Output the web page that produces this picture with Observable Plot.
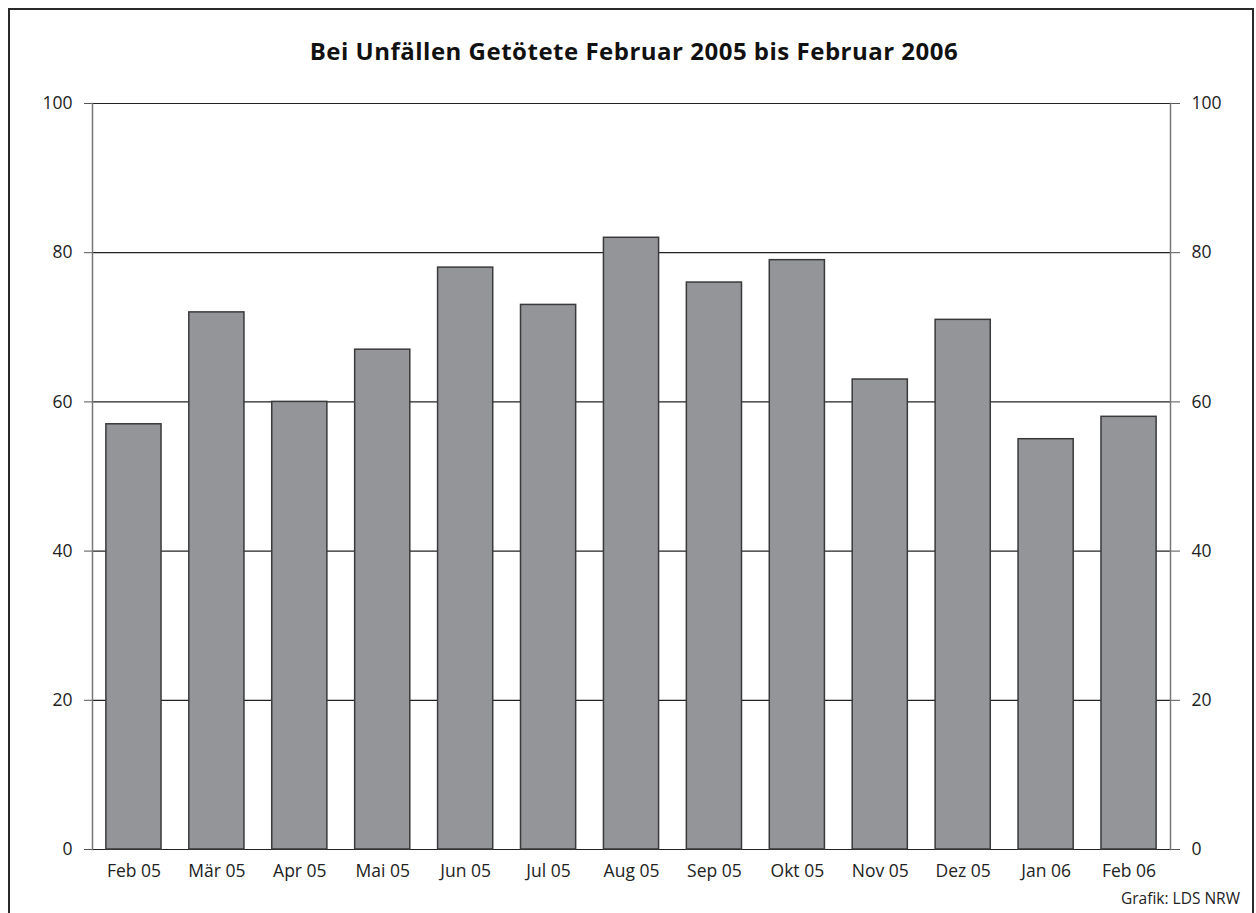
<!DOCTYPE html>
<html><head><meta charset="utf-8">
<script src="https://cdn.jsdelivr.net/npm/d3@7"></script>
<script src="https://cdn.jsdelivr.net/npm/@observablehq/plot@0.6"></script>
<style>
html,body{margin:0;padding:0;background:#fff;overflow:hidden;}
#wrap{position:relative;width:1256px;height:913px;font-family:"Open Sans",sans-serif;color:#222;}
#frame{position:absolute;left:8px;top:8px;width:1246px;height:940px;border:2px solid #2a2a2a;box-sizing:border-box;}
#title{position:absolute;left:12px;width:1244px;top:35px;text-align:center;font-weight:bold;font-size:24px;letter-spacing:0.5px;color:#111;line-height:32px;}
#chart{position:absolute;left:0;top:0;}
#chart svg text{font-size:17.5px;fill:#222;}
#caption{position:absolute;right:16px;top:888px;font-size:15.5px;color:#222;line-height:20px;}
</style></head>
<body><div id="wrap"><div id="frame"></div><div id="chart"></div>
<div id="title">Bei Unfällen Getötete Februar 2005 bis Februar 2006</div>
<div id="caption">Grafik: LDS NRW</div></div>
<script>
const months = ["Feb 05","Mär 05","Apr 05","Mai 05","Jun 05","Jul 05","Aug 05","Sep 05","Okt 05","Nov 05","Dez 05","Jan 06","Feb 06"];
const deaths = [57,72,60,67,78,73,82,76,79,63,71,55,58];
const yTicks = [0,20,40,60,80,100];
const data = months.map((m,i)=>({month:m, value:deaths[i]}));

const chart = Plot.plot({
  width:1256, height:913,
  marginLeft:92, marginRight:86, marginTop:103, marginBottom:64,
  style:{fontFamily:"Open Sans, sans-serif", fontSize:"17.5px", color:"#222", background:"transparent"},
  x:{domain:months, paddingInner:0.335, paddingOuter:0.1675, round:false, label:null},
  y:{domain:[0,100], label:null},
  marks:[
    Plot.ruleY(yTicks, {stroke:"#222", strokeWidth:1.2}),
    Plot.barY(data, {x:"month", y:"value", fill:"#939598", stroke:"#3a3a3a", strokeWidth:1.5}),
    Plot.axisY(yTicks, {anchor:"left", tickSize:8, tickPadding:12, stroke:"#555", label:null}),
    Plot.axisY(yTicks, {anchor:"right", tickSize:9, tickPadding:12, stroke:"#555", label:null}),
    Plot.axisX({tickSize:0, tickPadding:15, label:null}),
    Plot.frame({anchor:"left", stroke:"#777", strokeWidth:1.5}),
    Plot.frame({anchor:"right", stroke:"#777", strokeWidth:1.5})
  ]
});
document.getElementById("chart").appendChild(chart);
</script></body></html>
